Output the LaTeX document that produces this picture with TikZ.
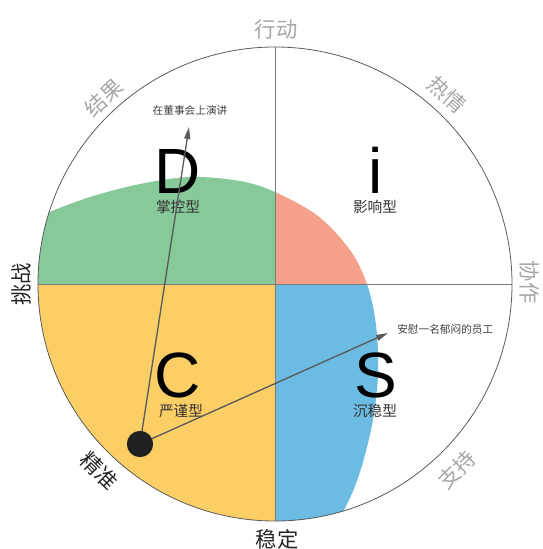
\documentclass[tikz,border=0pt]{standalone}
\usepackage{fontspec}
\setmainfont{Liberation Sans}
\newfontfamily\cjk{Noto Sans CJK SC}
\usetikzlibrary{arrows.meta}
\definecolor{dgreen}{HTML}{88C999}
\definecolor{ired}{HTML}{F5A18B}
\definecolor{sblue}{HTML}{6BBBE3}
\definecolor{cyellow}{HTML}{FCCF66}
\definecolor{glabel}{HTML}{A6A6A6}
\definecolor{linegray}{HTML}{5A5A5A}
\tikzset{
  outerring/.style={draw=linegray, line width=0.6pt},
  axisline/.style={draw=linegray!80, line width=0.6pt},
  biglet/.style={font=\fontsize{48}{48}\selectfont, anchor=base, inner sep=0pt, text depth=0pt},
  typelab/.style={font=\cjk\fontsize{11}{11}\selectfont, text=black!80, inner sep=0pt, text height=9pt, text depth=1.5pt},
  glab/.style={font=\cjk\fontsize{16}{16}\selectfont, text=glabel, inner sep=0pt},
  blab/.style={font=\cjk\fontsize{16}{16}\selectfont, text=black!85, inner sep=0pt},
  smalllab/.style={font=\cjk\fontsize{8}{8}\selectfont, text=black!75, inner sep=0pt},
  arrowline/.style={draw=linegray, line width=1pt, -{Triangle[length=9pt,width=4.5pt]}},
  bigdot/.style={circle, fill=black!87, minimum size=19.5pt, inner sep=0pt}
}
\begin{document}
\begin{tikzpicture}[x=0.75pt,y=-0.75pt]
\useasboundingbox (0,0) rectangle (542,549);
\coordinate (O) at (275,284);
\coordinate (top) at (275,47);
\coordinate (bot) at (275,521);
\coordinate (lft) at (38,284);
\coordinate (rgt) at (512,284);

% coloured profile
\begin{scope}
  \clip (O) circle[radius=177.75pt];
  \clip plot[smooth, tension=0.55] coordinates {(15,228) (47,213) (90,197) (140,184) (190,177) (240,181) (275,192) (318,216) (350,250) (367,284) (376,325) (378,375) (372,425) (359,475) (344,510) (320,548)}
    -- (0,560) -- (-10,228) -- cycle;
  \fill[dgreen] (0,0) rectangle (275,284);
  \fill[ired] (275,0) rectangle (542,284);
  \fill[cyellow] (0,284) rectangle (275,549);
  \fill[sblue] (275,284) rectangle (542,549);
\end{scope}

% axes and ring
\draw[axisline] (top) -- (bot);
\draw[axisline] (lft) -- (rgt);
\draw[outerring] (O) circle[radius=177.75pt];

% outer labels
\node[glab] (l1) at (276,29) {行动};
\node[glab, rotate=-42] (l2) at (447,95) {热情};
\node[glab, rotate=-90] (l3) at (530,282) {协作};
\node[glab, rotate=45] (l4) at (457,470) {支持};
\node[blab] (l5) at (277,539) {稳定};
\node[blab, rotate=-45] (l6) at (99,471) {精准};
\node[blab, rotate=90] (l7) at (21,284) {挑战};
\node[glab, rotate=43] (l8) at (104,98) {结果};

% quadrant letters
\node[biglet] (D) at (178,193) {D};
\node[biglet] (I) at (376,193) {i};
\node[biglet] (C) at (178,397) {C};
\node[biglet] (S) at (376,397) {S};
\node[typelab] (Dt) at (178,207) {掌控型};
\node[typelab] (It) at (375,207) {影响型};
\node[typelab] (Ct) at (181,411) {严谨型};
\node[typelab] (St) at (375,411) {沉稳型};

% situation arrows
\coordinate (t1) at (189,127);
\coordinate (t2) at (388,333);
\node[smalllab] (a1) at (190,110) {在董事会上演讲};
\node[smalllab, anchor=west] (a2) at (397,329) {安慰一名郁闷的员工};
\node[bigdot] (dot) at (140,444) {};
\draw[arrowline] (dot.center) -- (t1);
\draw[arrowline] (dot.center) -- (t2);
\node[bigdot] at (dot) {};
\end{tikzpicture}
\end{document}
